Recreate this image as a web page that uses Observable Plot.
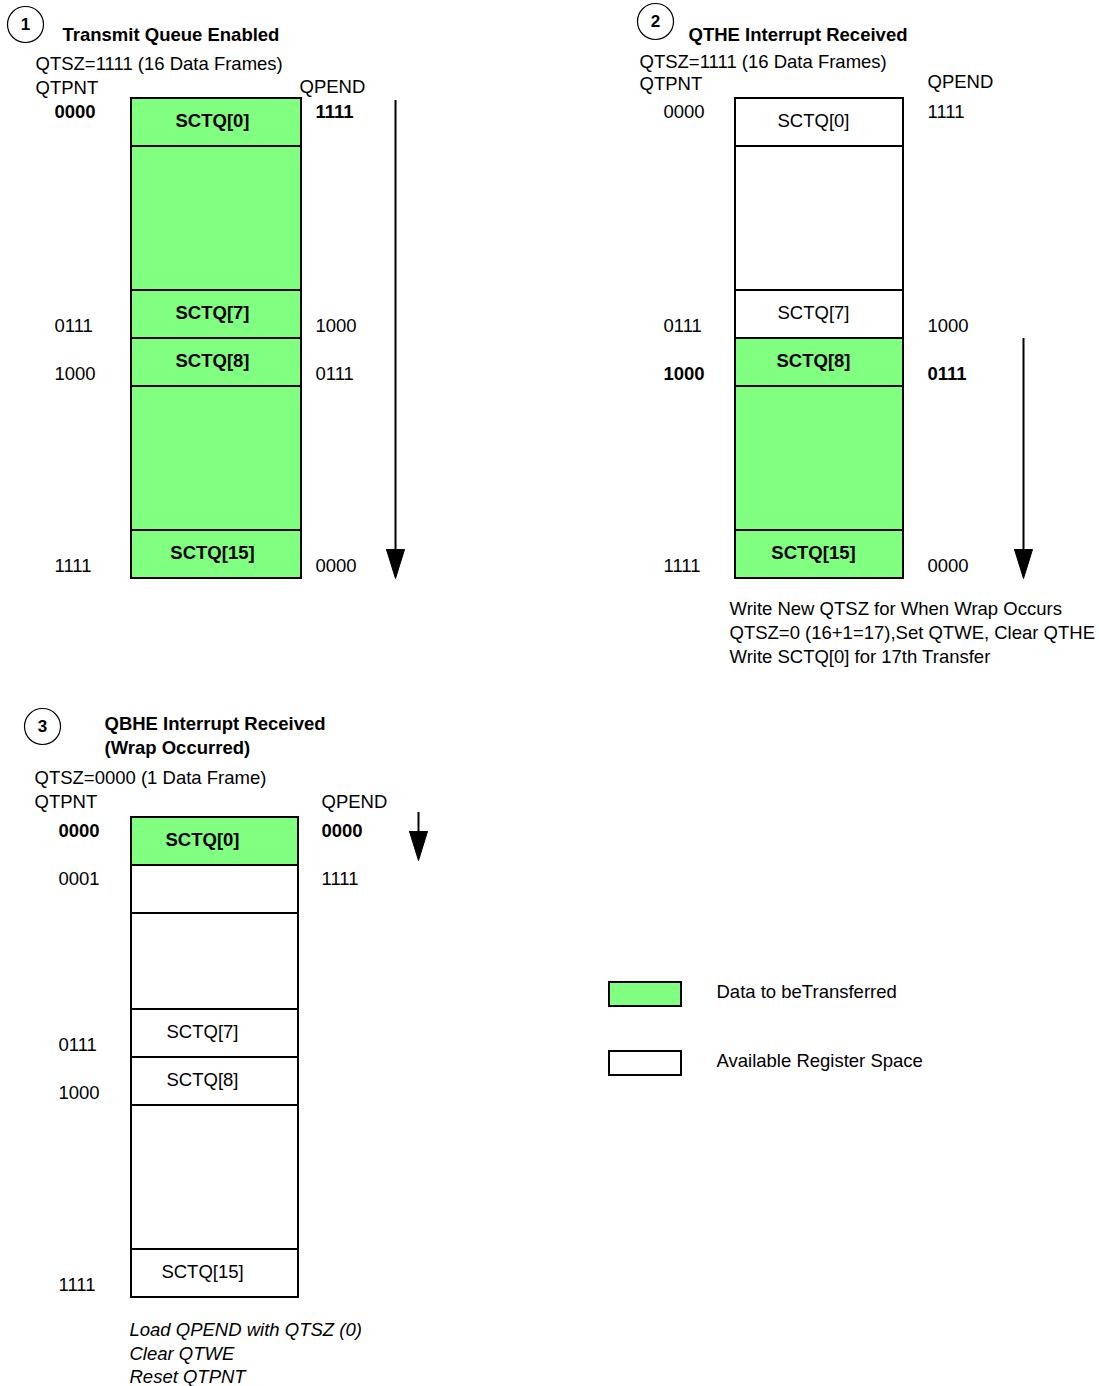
<!DOCTYPE html>
<html><head><meta charset="utf-8">
<script src="https://cdn.jsdelivr.net/npm/d3@7"></script>
<script src="https://cdn.jsdelivr.net/npm/@observablehq/plot@0.6"></script>
<style>body{margin:0;background:#fff} #chart svg{display:block}</style>
</head><body><div id="chart"></div>
<script>
// ---------- DATA ----------
const panelNumbers = ["1", "2", "3"];
const panelTitles = [["Transmit Queue Enabled"], ["QTHE Interrupt Received"], ["QBHE Interrupt Received", "(Wrap Occurred)"]];
const queueSizes = ["QTSZ=1111 (16 Data Frames)", "QTSZ=1111 (16 Data Frames)", "QTSZ=0000 (1 Data Frame)"];
const pointerHeads = ["QTPNT", "QPEND"];
const cellLabels = [
  ["SCTQ[0]", "", "SCTQ[7]", "SCTQ[8]", "", "SCTQ[15]"],
  ["SCTQ[0]", "", "SCTQ[7]", "SCTQ[8]", "", "SCTQ[15]"],
  ["SCTQ[0]", "", "", "SCTQ[7]", "SCTQ[8]", "", "SCTQ[15]"]
];
const cellFilled = [
  [true, true, true, true, true, true],
  [false, false, false, true, true, true],
  [true, false, false, false, false, false, false]
];
const qtpntLabels = [
  [{cell: 0, text: "0000", bold: true}, {cell: 2, text: "0111"}, {cell: 3, text: "1000"}, {cell: 5, text: "1111"}],
  [{cell: 0, text: "0000"}, {cell: 2, text: "0111"}, {cell: 3, text: "1000", bold: true}, {cell: 5, text: "1111"}],
  [{cell: 0, text: "0000", bold: true}, {cell: 1, text: "0001"}, {cell: 3, text: "0111"}, {cell: 4, text: "1000"}, {cell: 6, text: "1111"}]
];
const qpendLabels = [
  [{cell: 0, text: "1111", bold: true}, {cell: 2, text: "1000"}, {cell: 3, text: "0111"}, {cell: 5, text: "0000"}],
  [{cell: 0, text: "1111"}, {cell: 2, text: "1000"}, {cell: 3, text: "0111", bold: true}, {cell: 5, text: "0000"}],
  [{cell: 0, text: "0000", bold: true}, {cell: 1, text: "1111"}]
];
const noteLines = [
  [],
  ["Write New QTSZ for When Wrap Occurs", "QTSZ=0 (16+1=17),Set QTWE, Clear QTHE", "Write SCTQ[0] for 17th Transfer"],
  ["Load QPEND with QTSZ (0)", "Clear QTWE", "Reset QTPNT"]
];
const legendLabels = ["Data to beTransferred", "Available Register Space"];
const legendFilled = [true, false];

// ---------- LAYOUT ----------
const W = 1099, H = 1386;
const GREEN = "#80ff80";
const FONT = "Liberation Sans, Arial, Helvetica, sans-serif";
const FS = 18.5;
const UNIT = 48;
const layout = [
  {circle: [25, 24], title: [62, 35], qtsz: [35, 64], qtpnt: [35, 88], qpend: [299, 87],
   box: [131, 301, 98], units: [1, 3, 1, 1, 3, 1], textX: 212, left: 54, right: 315,
   arrow: [395, 100, 578], note: null, italic: false},
  {circle: [655, 21], title: [688, 35], qtsz: [639, 62], qtpnt: [639, 84], qpend: [927, 82],
   box: [735, 903, 98], units: [1, 3, 1, 1, 3, 1], textX: 813, left: 663, right: 927,
   arrow: [1023, 338, 578], note: [729, 609, 24], italic: false},
  {circle: [42, 726], title: [104, 724], qtsz: [34, 778], qtpnt: [34, 802], qpend: [321, 802],
   box: [131, 298, 817], units: [1, 1, 2, 1, 1, 3, 1], textX: 202, left: 58, right: 321,
   arrow: [418, 812, 860], note: [129, 1330, 23.5], italic: true}
];
const legendLayout = {x1: 609, x2: 681, h: 24, ys: [994, 1063], textX: 716};

// ---------- BUILD MARK DATA ----------
const cells = [], plainText = [], boldText = [], italicText = [], circles = [], shafts = [], heads = [];
layout.forEach((L, p) => {
  circles.push({x: L.circle[0], y: L.circle[1], text: panelNumbers[p]});
  panelTitles[p].forEach((t, i) => boldText.push({x: L.title[0], y: L.title[1] + i * 24, text: t}));
  plainText.push({x: L.qtsz[0], y: L.qtsz[1], text: queueSizes[p]});
  plainText.push({x: L.qtpnt[0], y: L.qtpnt[1], text: pointerHeads[0]});
  plainText.push({x: L.qpend[0], y: L.qpend[1], text: pointerHeads[1]});
  let top = L.box[2];
  const geo = [];
  cellLabels[p].forEach((lab, i) => {
    const h = L.units[i] * UNIT;
    const c = {x1: L.box[0], x2: L.box[1], y1: top, y2: top + h, filled: cellFilled[p][i], label: lab};
    cells.push(c); geo.push(c);
    if (lab) (c.filled ? boldText : plainText).push({x: L.textX, y: top + h / 2 - 1, text: lab, anchor: "middle"});
    top += h;
  });
  const place = (lab, x) => {
    const g = geo[lab.cell];
    const y = lab.cell <= 1 ? g.y1 + 14 : g.y2 - 12;
    (lab.bold ? boldText : plainText).push({x, y, text: lab.text});
  };
  qtpntLabels[p].forEach(l => place(l, L.left));
  qpendLabels[p].forEach(l => place(l, L.right));
  const [ax, ay1, ay2] = L.arrow;
  shafts.push({x: ax, y1: ay1, y2: ay2 - 20});
  heads.push({x: ax - 9, y: ay2 - 29, z: p}, {x: ax + 9, y: ay2 - 29, z: p}, {x: ax, y: ay2, z: p}, {x: ax - 9, y: ay2 - 29, z: p});
  if (L.note) noteLines[p].forEach((t, i) =>
    (L.italic ? italicText : plainText).push({x: L.note[0], y: L.note[1] + i * L.note[2], text: t}));
});
const legendBoxes = legendLabels.map((t, i) => ({
  x1: legendLayout.x1, x2: legendLayout.x2,
  y1: legendLayout.ys[i] - legendLayout.h / 2, y2: legendLayout.ys[i] + legendLayout.h / 2, filled: legendFilled[i]}));
legendLabels.forEach((t, i) => plainText.push({x: legendLayout.textX, y: legendLayout.ys[i] - 2, text: t}));

const textOpts = (extra) => Object.assign({
  x: "x", y: "y", text: "text", textAnchor: "start", fontSize: FS, fontFamily: FONT, fill: "black"
}, extra);

const chart = Plot.plot({
  width: W, height: H, margin: 0,
  x: {domain: [0, W], range: [0, W], axis: null},
  y: {domain: [0, H], range: [0, H], axis: null},
  style: {background: "white", fontFamily: FONT},
  marks: [
    Plot.rect(cells, {x1: "x1", x2: "x2", y1: "y1", y2: "y2", fill: d => d.filled ? GREEN : "white", stroke: "black", strokeWidth: 2}),
    Plot.rect(legendBoxes, {x1: "x1", x2: "x2", y1: "y1", y2: "y2", fill: d => d.filled ? GREEN : "white", stroke: "black", strokeWidth: 2}),
    Plot.ruleX(shafts, {x: "x", y1: "y1", y2: "y2", stroke: "black", strokeWidth: 2}),
    Plot.line(heads, {x: "x", y: "y", z: "z", fill: "black", stroke: "black", strokeWidth: 1}),
    Plot.dot(circles, {x: "x", y: "y", r: 18, fill: "white", stroke: "black", strokeWidth: 1.2}),
    Plot.text(circles, textOpts({textAnchor: "middle", fontWeight: "bold", fontSize: 17})),
    Plot.text(plainText.filter(d => !d.anchor), textOpts({})),
    Plot.text(plainText.filter(d => d.anchor), textOpts({textAnchor: "middle"})),
    Plot.text(boldText.filter(d => !d.anchor), textOpts({fontWeight: "bold"})),
    Plot.text(boldText.filter(d => d.anchor), textOpts({fontWeight: "bold", textAnchor: "middle"})),
    Plot.text(italicText, textOpts({fontStyle: "italic"}))
  ]
});
document.getElementById("chart").appendChild(chart);
</script>
</body></html>
